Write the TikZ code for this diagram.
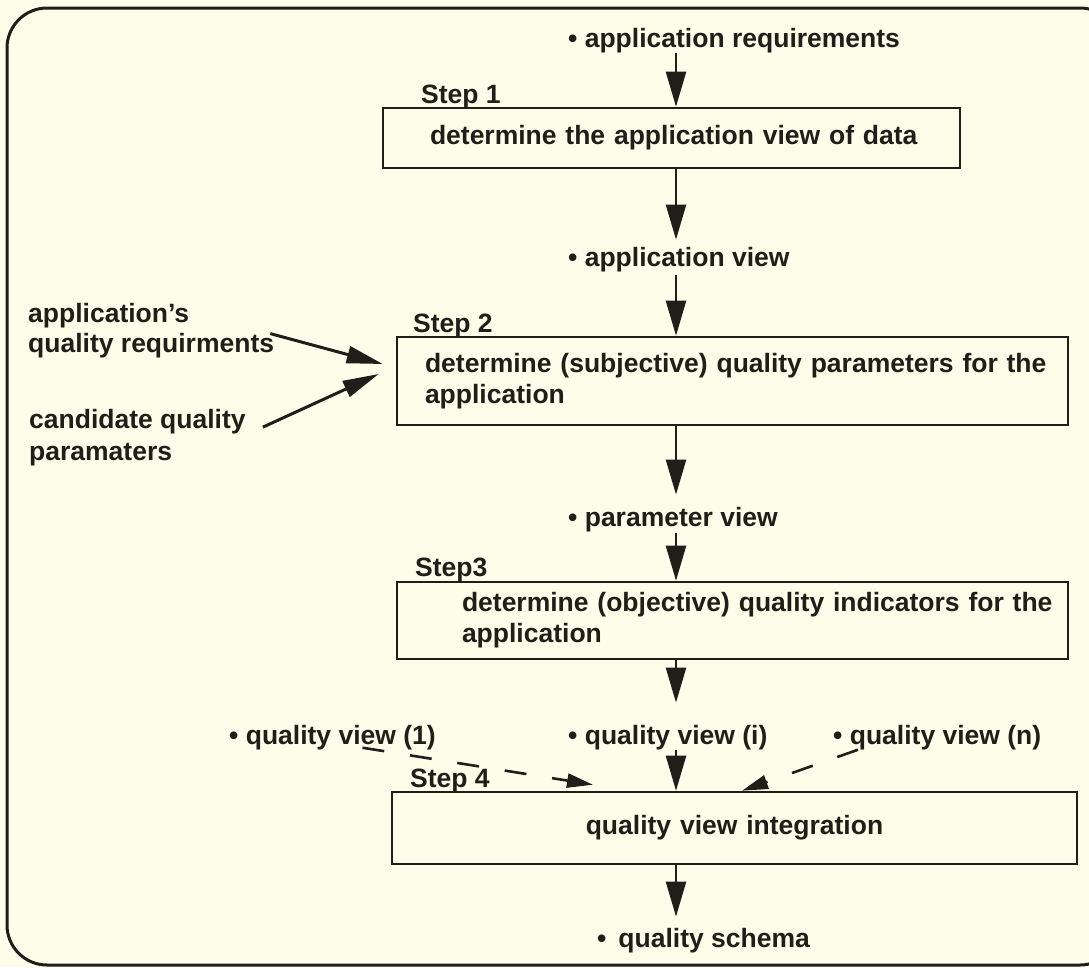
\documentclass[tikz,border=0pt]{standalone}
\usepackage{fontspec}
\setmainfont{Liberation Sans}
\usetikzlibrary{arrows.meta}
\definecolor{paper}{RGB}{253,253,234}
\definecolor{ink}{RGB}{32,30,24}
\begin{document}
\begin{tikzpicture}[x=1pt,y=-1pt,
  every node/.style={font=\fontsize{26.5}{31}\selectfont\bfseries, text=ink},
  lbl/.style={inner sep=0pt, anchor=base west},
  stepbox/.style={draw=ink, line width=2.6pt, inner ysep=0pt, align=left},
  flow/.style={draw=ink, line width=2.4pt, -{Triangle[length=35pt,width=20pt]}},
  side/.style={draw=ink, line width=3pt, -{Triangle[length=36pt,width=17pt]}},
  dashflow/.style={draw=ink, line width=2.6pt, dash pattern=on 22pt off 26pt, -{Triangle[length=26pt,width=14pt]}}
]
\fill[paper] (0,0) rectangle (1089,967);
\useasboundingbox (0,0) rectangle (1089,967);
\draw[ink, line width=3pt, rounded corners=40pt] (7,8) rectangle (1120,965);

\coordinate (ax) at (676,0);

% labels
\node[lbl] (t0) at (568,47) {• application requirements};
\node[lbl] (t1) at (568,266) {• application view};
\node[lbl] (t2) at (568,526) {• parameter view};
\node[lbl] (q1) at (229,744) {• quality view (1)};
\node[lbl] (qi) at (568,744) {• quality view (i)};
\node[lbl] (qn) at (833,744) {• quality view (n)};
\node[lbl] (qs) at (597,947) {•\hspace{12pt}quality schema};

\node[lbl] (aq) at (28,322) {application's};
\node[lbl] (qr) at (28,352) {quality requirments};
\node[lbl] (cq) at (29,428) {candidate quality};
\node[lbl] (pm) at (29,460) {paramaters};

% step labels
\node[lbl] (s1) at (421,103) {Step 1};
\node[lbl] (s2) at (413,332) {Step 2};
\node[lbl] (s3) at (415,576) {Step3};
\node[lbl] (s4) at (410,787) {Step 4};

% boxes
\node[stepbox, minimum width=577pt, minimum height=60pt, inner xsep=47pt, text width=483pt]
  (b1) at (671.5,138) {\mbox{determine the application view of data}};
\node[stepbox, minimum width=671pt, minimum height=88pt, inner xsep=28pt, text width=615pt]
  (b2) at (732.5,381) {\mbox{determine (subjective) quality parameters for the}\\application};
\node[stepbox, minimum width=671pt, minimum height=77pt, inner xsep=65pt, text width=541pt]
  (b3) at (732.5,620.5) {\mbox{determine (objective) quality indicators for the}\\application};
\node[stepbox, minimum width=685pt, minimum height=72pt, inner xsep=20pt, text width=645pt, align=center]
  (b4) at (734.5,828) {quality view integration};

% main flow
\draw[flow] (t0.south -| ax) -- (b1.north -| ax);
\draw[flow, shorten >=7pt] (b1.south -| ax) -- (t1.north -| ax);
\draw[flow, shorten <=3pt] (t1.south -| ax) -- (b2.north -| ax);
\draw[flow, shorten >=12pt] (b2.south -| ax) -- (t2.north -| ax);
\draw[flow, shorten <=1pt] (t2.south -| ax) -- (b3.north -| ax);
\draw[flow, shorten >=22pt] (b3.south -| ax) -- (qi.north -| ax);
\draw[flow] (qi.south -| ax) -- (b4.north -| ax);
\draw[flow, shorten >=11pt] (b4.south -| ax) -- (qs.north -| ax);

% side inputs
\draw[side] ([shift={(-4,1)}]qr.north east) -- ([shift={(-13,-17)}]b2.west);
\draw[side] ([shift={(17,6)}]cq.east) -- ([shift={(-17,-7)}]b2.west);

% dashed inputs
\draw[dashflow] ([shift={(30,-2)}]q1.south) -- ([shift={(-141.5,-6)}]b4.north);
\draw[dashflow] ([shift={(25,0)}]qn.south west) -- ([shift={(7.5,0)}]b4.north);
\end{tikzpicture}
\end{document}
